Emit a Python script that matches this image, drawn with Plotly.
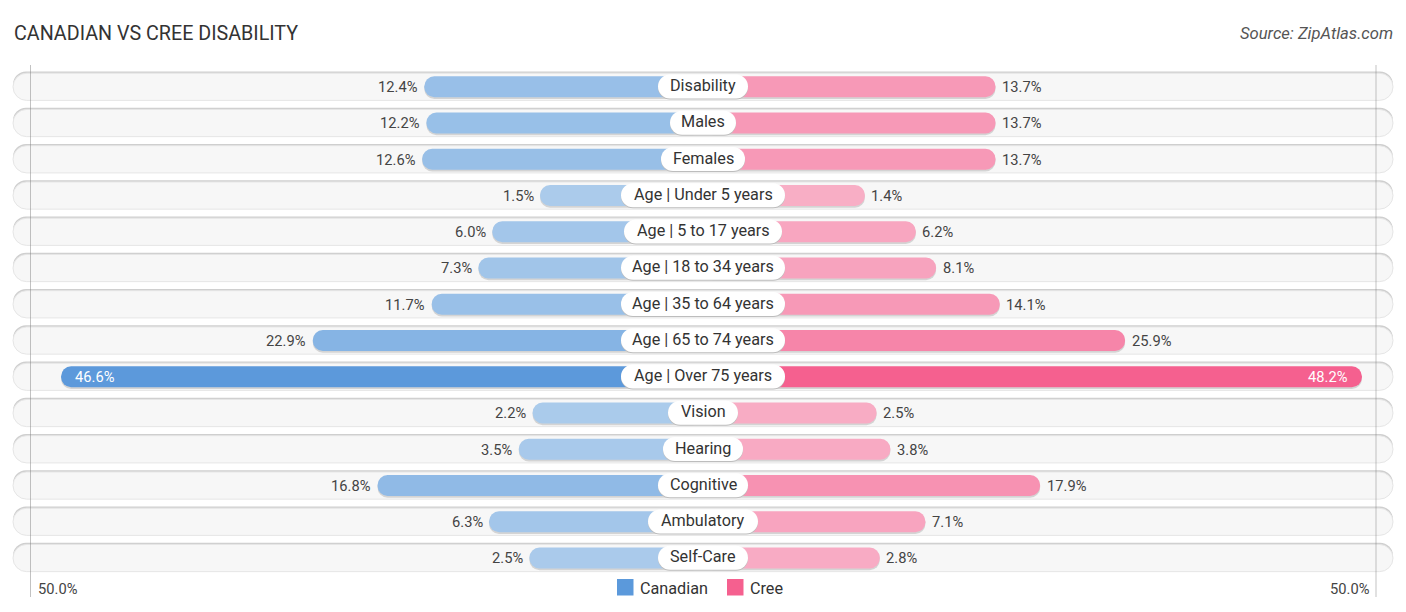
import plotly.graph_objects as go

categories = ["Disability", "Males", "Females", "Age | Under 5 years", "Age | 5 to 17 years",
              "Age | 18 to 34 years", "Age | 35 to 64 years", "Age | 65 to 74 years",
              "Age | Over 75 years", "Vision", "Hearing", "Cognitive", "Ambulatory", "Self-Care"]
canadian = [12.4, 12.2, 12.6, 1.5, 6.0, 7.3, 11.7, 22.9, 46.6, 2.2, 3.5, 16.8, 6.3, 2.5]
cree = [13.7, 13.7, 13.7, 1.4, 6.2, 8.1, 14.1, 25.9, 48.2, 2.5, 3.8, 17.9, 7.1, 2.8]
pill_half_px = [45, 33, 42, 82, 79, 82, 82, 82, 82, 35, 40, 45, 55, 45]

W, H = 1406, 612
CX = 703
PX = 10.62          # pixels per percentage point
GAP = 147 / PX      # the centre gap, in percentage points
PITCH = 36.25
Y0 = 86
FONT = "Roboto"
TXT = "#444444"

u = lambda px: px / PITCH
n = len(categories)
fig = go.Figure()


def layer(x, base, top_px, height_px, color, radius, line=None, opacity=None):
    fig.add_bar(y=categories, x=x, base=base, orientation="h",
                offset=u(top_px), width=u(height_px),
                marker=dict(color=color, cornerradius=radius,
                            line=dict(width=1 if line else 0, color=line or color)),
                opacity=opacity, showlegend=False, hoverinfo="skip")


row_half = 690 / PX
# row background: darker upper edge, then the pale body
layer([2 * row_half] * n, [-row_half] * n, -14.5, 27, "#cfcfcf", 14)
layer([2 * row_half] * n, [-row_half] * n, -12.8, 27.2, "#f7f7f7", 14, line="#e6e6e6")

left_len = [GAP + v for v in canadian]
right_len = [GAP + v for v in cree]
left_base = [-v for v in left_len]
right_base = [0] * n

# bar shadows
layer(left_len, left_base, -8.7, 21.6, "#d4d4d4", 10.5)
layer(right_len, right_base, -8.7, 21.6, "#d4d4d4", 10.5)

# value bars
BLUES = [[0, "#AECDEC"], [1, "#5B99DB"]]
PINKS = [[0, "#F8B0C7"], [1, "#F5608F"]]
fig.add_bar(y=categories, x=left_len, base=left_base, orientation="h",
            offset=u(-9.7), width=u(21),
            marker=dict(color=canadian, colorscale=BLUES, cmin=0, cmax=47, cornerradius=10.5, line_width=0),
            showlegend=False, hoverinfo="skip")
fig.add_bar(y=categories, x=right_len, base=right_base, orientation="h",
            offset=u(-9.7), width=u(21),
            marker=dict(color=cree, colorscale=PINKS, cmin=0, cmax=48, cornerradius=10.5, line_width=0),
            showlegend=False, hoverinfo="skip")

# label pills
layer([2 * p / PX for p in pill_half_px], [-p / PX for p in pill_half_px], -10.5, 24, "#bdbdbd", 12)
layer([2 * p / PX for p in pill_half_px], [-p / PX for p in pill_half_px], -11.5, 24, "#ffffff", 12)

ann = []
for cat, a, b in zip(categories, canadian, cree):
    ann.append(dict(x=0, y=cat, text=cat, showarrow=False, xanchor="center", yanchor="middle", yshift=0.5,
                    font=dict(family=FONT, size=16.2, color="#333333")))
    for v, sign in ((a, -1), (b, 1)):
        inside = v > 40
        ann.append(dict(x=sign * (GAP + v), y=cat, text=f"{v:.1f}%", showarrow=False, yanchor="middle",
                        xanchor=("left" if sign < 0 else "right") if inside else ("right" if sign < 0 else "left"),
                        xshift=(-sign * 12) if inside else (sign * 4.5), yshift=-1,
                        font=dict(family=FONT, size=14.7, color="#ffffff" if inside else TXT)))

paper = dict(xref="paper", yref="paper", showarrow=False)
ann += [
    dict(paper, x=11.5 / W, y=1 - 33 / H, text="CANADIAN VS CREE DISABILITY", xanchor="left", yanchor="middle",
         font=dict(family=FONT, size=19.7, color="#333333")),
    dict(paper, x=1395 / W, y=1 - 33 / H, text="<i>Source: ZipAtlas.com</i>", xanchor="right", yanchor="middle",
         font=dict(family=FONT, size=16.6, color="#555555")),
    dict(paper, x=36 / W, y=1 - 589 / H, text="50.0%", xanchor="left", yanchor="middle",
         font=dict(family=FONT, size=14.7, color=TXT)),
    dict(paper, x=1372 / W, y=1 - 589 / H, text="50.0%", xanchor="right", yanchor="middle",
         font=dict(family=FONT, size=14.7, color=TXT)),
    dict(paper, x=638 / W, y=1 - 588.5 / H, text="Canadian", xanchor="left", yanchor="middle",
         font=dict(family=FONT, size=16.2, color="#333333")),
    dict(paper, x=748 / W, y=1 - 588.5 / H, text="Cree", xanchor="left", yanchor="middle",
         font=dict(family=FONT, size=16.2, color="#333333")),
]

shapes = []
for px in (30.5, 1376):
    shapes.append(dict(type="line", xref="paper", yref="paper", x0=px / W, x1=px / W,
                       y0=1 - 65 / H, y1=1 - 597 / H, line=dict(color="rgba(120,120,120,0.45)", width=1)))
for x0, c in ((617, "#5B99DB"), (727, "#F5608F")):
    shapes.append(dict(type="rect", xref="paper", yref="paper", x0=x0 / W, x1=(x0 + 16.5) / W,
                       y0=1 - 579 / H, y1=1 - 595.5 / H, fillcolor=c, line=dict(width=0)))

fig.update_layout(
    width=W, height=H, margin=dict(l=0, r=0, t=0, b=0), autosize=False,
    paper_bgcolor="#ffffff", plot_bgcolor="#ffffff", barmode="overlay", showlegend=False,
    xaxis=dict(range=[-CX / PX, (W - CX) / PX], visible=False, fixedrange=True),
    yaxis=dict(range=[(H - Y0) / PITCH, -Y0 / PITCH], visible=False, type="category",
               categoryorder="array", categoryarray=categories, fixedrange=True),
    annotations=ann, shapes=shapes,
)
fig.write_html("out.html", post_script="document.body.style.margin='0';document.body.style.overflow='hidden';",
               config={"displayModeBar": False})
